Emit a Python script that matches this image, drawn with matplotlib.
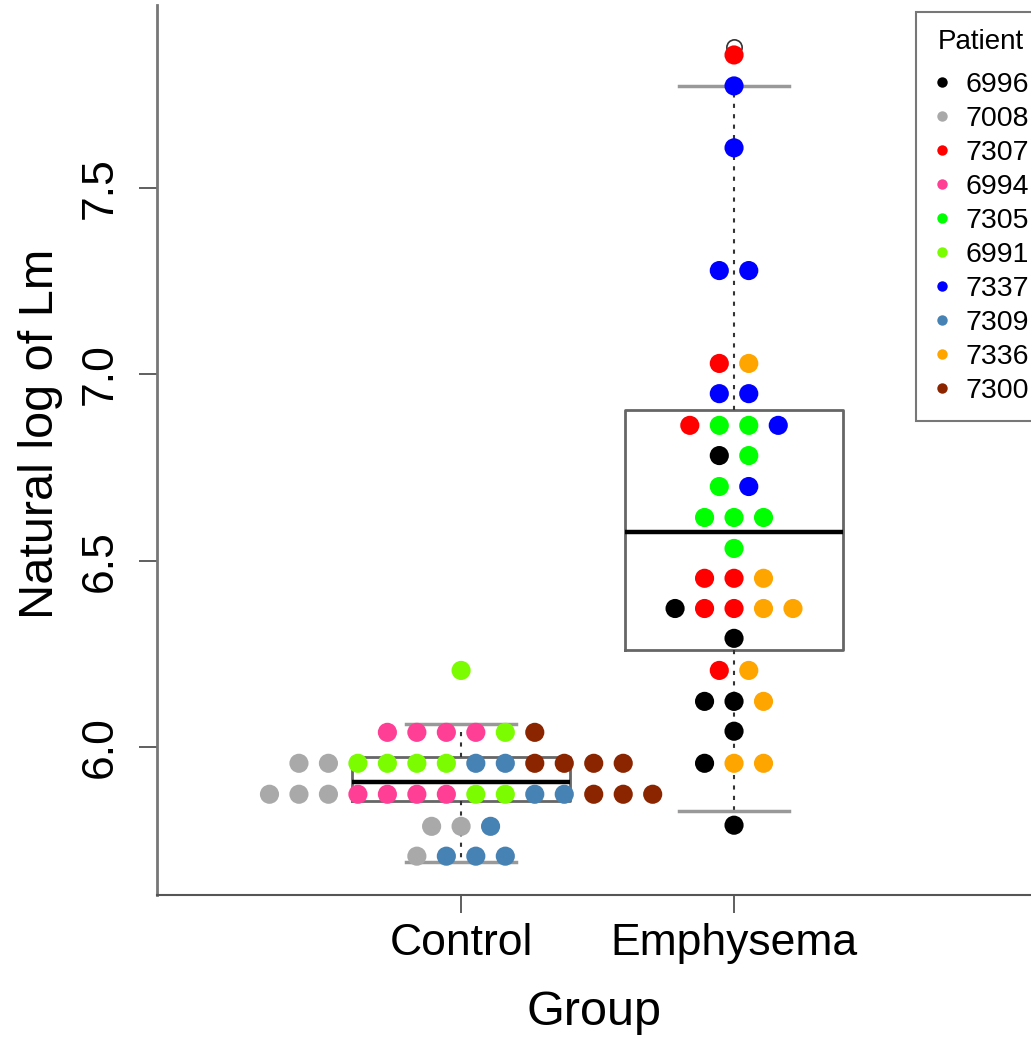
import matplotlib
matplotlib.use("Agg")
import matplotlib.pyplot as plt
from matplotlib.lines import Line2D
from collections import defaultdict

plt.rcParams['font.family'] = ['Liberation Sans', 'DejaVu Sans']

# groups and patients (legend order)
groups = ["Control", "Emphysema"]
patients = ["6996", "7008", "7307", "6994", "7305", "6991", "7337", "7309", "7336", "7300"]
patient_group = ["Emphysema", "Control", "Emphysema", "Control", "Emphysema",
                 "Control", "Emphysema", "Control", "Emphysema", "Control"]
colors = ["#000000", "#A9A9A9", "#FF0000", "#FF3E96", "#00FF00",
          "#7CFC00", "#0000FF", "#4682B4", "#FFA500", "#8B2500"]

# natural log of Lm per patient
lm_6996 = [6.782, 6.372, 6.292, 6.123, 6.123, 6.043, 5.957, 5.791]
lm_7008 = [5.957, 5.957, 5.874, 5.874, 5.874, 5.788, 5.788, 5.708]
lm_7307 = [7.856, 7.029, 6.863, 6.453, 6.453, 6.372, 6.372, 6.206]
lm_6994 = [6.040, 6.040, 6.040, 6.040, 5.874, 5.874, 5.874, 5.874]
lm_7305 = [6.863, 6.863, 6.782, 6.699, 6.616, 6.616, 6.616, 6.533]
lm_6991 = [6.206, 6.040, 5.957, 5.957, 5.957, 5.957, 5.874, 5.874]
lm_7337 = [7.773, 7.607, 7.278, 7.278, 6.948, 6.948, 6.863, 6.699]
lm_7309 = [5.957, 5.957, 5.874, 5.874, 5.788, 5.708, 5.708, 5.708]
lm_7336 = [7.029, 6.453, 6.372, 6.372, 6.206, 6.123, 5.957, 5.957]
lm_7300 = [6.040, 5.957, 5.957, 5.957, 5.957, 5.874, 5.874, 5.874]
values = [lm_6996, lm_7008, lm_7307, lm_6994, lm_7305,
          lm_6991, lm_7337, lm_7309, lm_7336, lm_7300]

# box statistics as drawn
box_whislo = [5.693, 5.829]
box_q1 = [5.855, 6.260]
box_med = [5.907, 6.577]
box_q3 = [5.974, 6.903]
box_whishi = [6.063, 7.773]
box_fliers = [[6.206], [7.877]]

fig = plt.figure(figsize=(10.31, 10.38), dpi=100)
ax = fig.add_axes([0.1523, 0.1378, 0.8477, 0.8574])

stats = []
for i in range(2):
    stats.append(dict(whislo=box_whislo[i], q1=box_q1[i], med=box_med[i],
                      q3=box_q3[i], whishi=box_whishi[i], fliers=box_fliers[i]))
ax.bxp(stats, positions=[1, 2], widths=0.8, showfliers=True,
       boxprops=dict(color="#666666", linewidth=2),
       medianprops=dict(color="black", linewidth=3.2),
       whiskerprops=dict(color="#333333", linewidth=1.5, linestyle=(0, (2, 3))),
       capprops=dict(color="#999999", linewidth=2.5),
       capwidths=0.4,
       flierprops=dict(marker="o", markerfacecolor="none", markeredgecolor="#333333",
                       markersize=11, markeredgewidth=1.2),
       zorder=1)

# stacked dot strip: points sharing a value are spread sideways
spacing = 0.108
rows = defaultdict(list)
for pi in range(len(patients)):
    for v in values[pi]:
        rows[(patient_group[pi], v)].append(pi)
for (grp, v), members in rows.items():
    xc = groups.index(grp) + 1
    n = len(members)
    for k, pi in enumerate(members):
        ax.scatter(xc + (k - (n - 1) / 2) * spacing, v, s=190, color=colors[pi],
                   edgecolors="none", zorder=3)

ax.set_xlim(-0.114, 3.088)
ax.set_ylim(5.604, 7.99)
ax.set_xticks([1, 2])
ax.set_xticklabels(groups)
ax.set_yticks([6.0, 6.5, 7.0, 7.5])
ax.set_yticklabels(["6.0", "6.5", "7.0", "7.5"], rotation=90, va="center")
ax.tick_params(axis="both", direction="out", length=13, width=1.2, colors="#444444",
               labelcolor="black", labelsize=32)
ax.tick_params(axis="y", pad=13)
ax.tick_params(axis="x", pad=7)
ax.spines["top"].set_visible(False)
ax.spines["right"].set_visible(False)
ax.spines["left"].set_color("#777777")
ax.spines["left"].set_linewidth(2)
ax.spines["bottom"].set_color("#555555")
ax.spines["bottom"].set_linewidth(1.5)
ax.set_xlabel("Group", fontsize=35, labelpad=19)
ax.set_ylabel("Natural log of Lm", fontsize=35)
ax.yaxis.set_label_coords(-0.1076, 0.518)

handles = [Line2D([], [], linestyle="none", marker="o", markersize=7.5,
                  markerfacecolor=c, markeredgecolor="none") for c in colors]
leg = ax.legend(handles, patients, title="Patient", loc="upper left",
                bbox_to_anchor=(916 / 1031, 1 - 12 / 1038), bbox_transform=fig.transFigure,
                fontsize=20.5, title_fontsize=20, frameon=True, fancybox=False,
                borderpad=0.6, labelspacing=0.28, handlelength=0.6, handletextpad=0.53,
                borderaxespad=0)
leg._legend_box.sep = 12
leg.get_frame().set_edgecolor("#555555")
leg.get_frame().set_linewidth(1.5)

fig.savefig("out.png", dpi=100)
